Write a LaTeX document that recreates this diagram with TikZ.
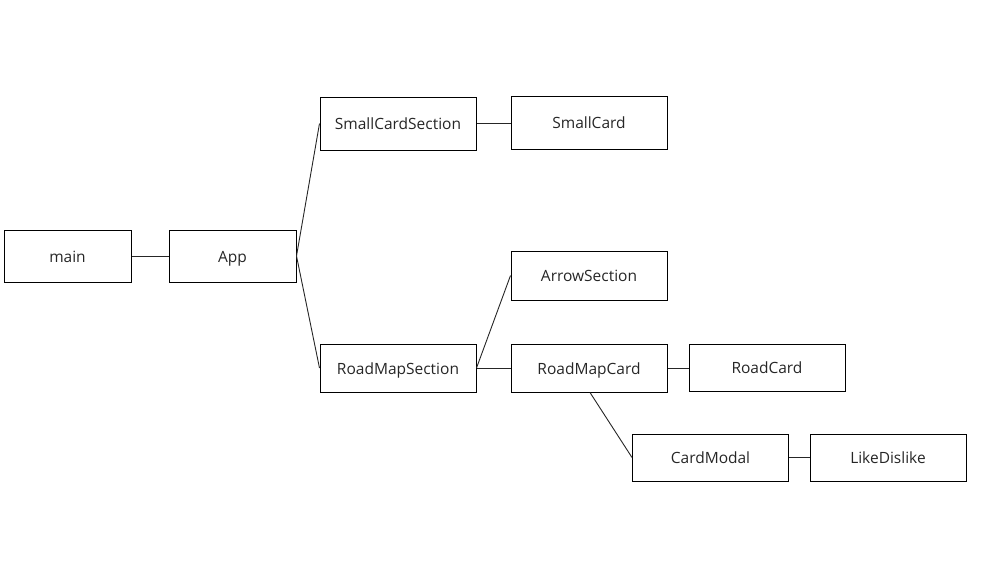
\documentclass[tikz,border=0pt]{standalone}
\usepackage{fontspec}
\setmainfont{Open Sans}
\begin{document}
\begin{tikzpicture}[x=1pt,y=-1pt,
  box/.style={draw, line width=1pt, minimum width=#1, inner sep=0pt, text height=12.5pt, text depth=0.5pt, font=\fontsize{15.5}{18}\selectfont, text=black!85},
  box/.default=156pt,
  link/.style={line width=0.9pt, draw=black!85}]
\useasboundingbox (0,0) rectangle (986,573);
\node[box=127pt, minimum height=52pt] (main) at (67.5,256) {main};
\node[box=127pt, minimum height=52pt] (app) at (232.5,256) {App};
\node[box, minimum height=53pt] (scs) at (398,123.5) {SmallCardSection};
\node[box, minimum height=53pt] (sc) at (589,122.5) {SmallCard};
\node[box, minimum height=49pt] (as) at (589,275.5) {ArrowSection};
\node[box, minimum height=48pt] (rms) at (398,368) {RoadMapSection};
\node[box, minimum height=48pt] (rmc) at (589,368) {RoadMapCard};
\node[box, minimum height=47pt] (rc) at (767,367.5) {RoadCard};
\node[box, minimum height=47pt] (cm) at (710.5,457.5) {CardModal};
\node[box, minimum height=47pt] (ld) at (888,457.5) {LikeDislike};
\draw[link] (main.east) -- (app.west);
\draw[link] (app.east) -- (scs.west);
\draw[link] (app.east) -- (rms.west);
\draw[link] (scs.east) -- (scs.east -| sc.west);
\draw[link] (rms.east) -- (as.west);
\draw[link] (rms.east) -- (rmc.west);
\draw[link] (rmc.east) -- (rmc.east -| rc.west);
\draw[link] ([xshift=1pt]rmc.south) -- (cm.west);
\draw[link] (cm.east) -- (ld.west);
\end{tikzpicture}
\end{document}
